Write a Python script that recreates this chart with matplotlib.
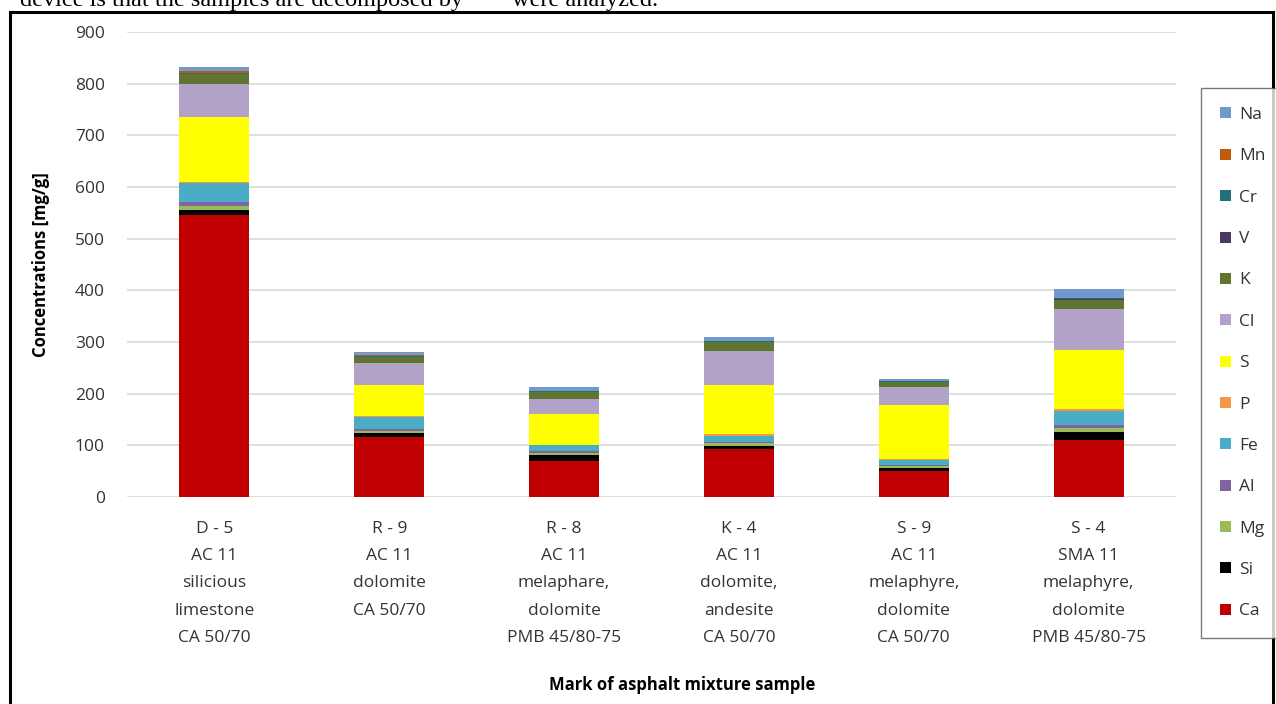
import numpy as np
import matplotlib
matplotlib.use("Agg")
import matplotlib.pyplot as plt
from matplotlib.patches import Rectangle

plt.rcParams['font.family'] = ['Open Sans', 'DejaVu Sans']

samples = [
    "D - 5\nAC 11\nsilicious\nlimestone\nCA 50/70",
    "R - 9\nAC 11\ndolomite\nCA 50/70",
    "R - 8\nAC 11\nmelaphare,\ndolomite\nPMB 45/80-75",
    "K - 4\nAC 11\ndolomite,\nandesite\nCA 50/70",
    "S - 9\nAC 11\nmelaphyre,\ndolomite\nCA 50/70",
    "S - 4\nSMA 11\nmelaphyre,\ndolomite\nPMB 45/80-75",
]

# stacking order from the bottom up
elements = ["Ca", "Si", "Mg", "Al", "Fe", "P", "S", "Cl", "K", "V", "Cr", "Mn", "Na"]

Ca = [546, 117, 69, 92, 50, 110]
Si = [9.7, 6.5, 13, 6.5, 6.5, 15.5]
Mg = [7.7, 4, 4, 6, 3, 7.7]
Al = [7.7, 4.5, 4, 2.5, 2, 6.5]
Fe = [36, 22, 10, 12, 11, 27.7]
P = [3, 2, 1, 2, 1, 3]
S = [126, 61, 59, 95, 105, 113.5]
Cl = [64, 43, 30, 66, 33.5, 80]
K = [18, 11.6, 13.5, 17.4, 11, 18]
V = [0.5, 0.3, 0.3, 0.3, 0.3, 0.5]
Cr = [3, 1.5, 1, 1.5, 1, 3]
Mn = [3, 2, 1, 1.5, 1, 0.5]
Na = [8, 6, 6.5, 7, 4, 16]

colors = {
    "Ca": "#C00000", "Si": "#000000", "Mg": "#9BBB59", "Al": "#8064A2",
    "Fe": "#4BACC6", "P": "#F79646", "S": "#FFFF00", "Cl": "#B3A2C7",
    "K": "#5F7530", "V": "#4B3862", "Cr": "#23707C", "Mn": "#C05A0E",
    "Na": "#7199CB",
}

data = {"Ca": Ca, "Si": Si, "Mg": Mg, "Al": Al, "Fe": Fe, "P": P, "S": S,
        "Cl": Cl, "K": K, "V": V, "Cr": Cr, "Mn": Mn, "Na": Na}

W, H = 1276, 704
fig = plt.figure(figsize=(W / 100, H / 100), dpi=100)
ax = fig.add_axes([127 / W, 1 - 497 / H, (1176 - 127) / W, (497 - 32) / H])

x = np.arange(len(samples))
bottom = np.zeros(len(samples))
handles = {}
for el in elements:
    vals = np.array(data[el], dtype=float)
    b = ax.bar(x, vals, width=0.4, bottom=bottom, color=colors[el], label=el, zorder=3)
    handles[el] = b
    bottom += vals

ax.set_xlim(-0.5, len(samples) - 0.5)
ax.set_ylim(0, 900)
ax.set_yticks(np.arange(0, 901, 100))
ax.yaxis.grid(True, color="#D9D9D9", linewidth=1.2, zorder=0)
for s in ax.spines.values():
    s.set_visible(False)
ax.tick_params(axis="both", length=0, labelsize=12.5, colors="#333333")
ax.tick_params(axis="y", pad=16)
ax.set_xticks(x)
ax.set_xticklabels(samples, linespacing=1.95)
ax.tick_params(axis="x", pad=17)

fig.text(41 / W, 1 - 265 / H, "Concentrations [mg/g]", rotation=90, ha="center", va="center",
         fontsize=12, fontweight="bold")
fig.text(682 / W, 1 - 685 / H, "Mark of asphalt mixture sample", ha="center", va="center",
         fontsize=12, fontweight="bold")

leg_order = list(reversed(elements))
leg = fig.legend([handles[e] for e in leg_order], leg_order,
                 loc="upper left", bbox_to_anchor=(1201 / W, 1 - 88 / H),
                 fontsize=12.5, handlelength=0.6, handleheight=0.6, handletextpad=0.5,
                 labelspacing=1.46, borderpad=1.1, fancybox=False, frameon=True,
                 edgecolor="#595959", borderaxespad=0)
leg.get_frame().set_linewidth(1.0)
for t in leg.get_texts():
    t.set_color("#333333")

# outer frame of the chart
fig.patches.append(Rectangle((10 / W, -0.05), (1273 - 10) / W, 1 - 12 / H + 0.05,
                             transform=fig.transFigure, fill=False, edgecolor="black",
                             linewidth=2.2))

# clipped line of paper text above the chart
fig.text(20 / W, 1 - 6 / H, "device is that the samples are decomposed by        were analyzed.",
         ha="left", va="baseline", fontsize=17.5, family=["Liberation Serif", "DejaVu Serif"])

fig.savefig("out.png", dpi=100)
